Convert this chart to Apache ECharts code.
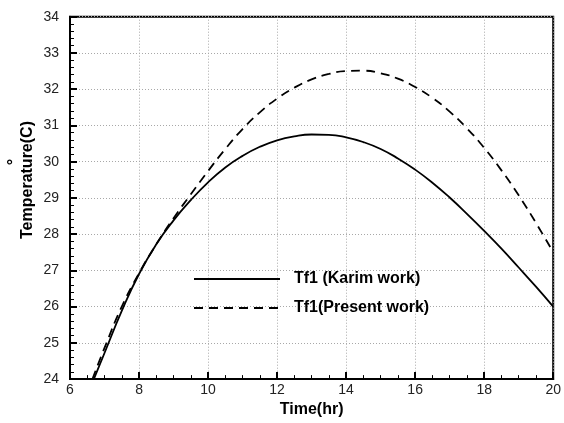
<!DOCTYPE html>
<html>
<head>
<meta charset="utf-8">
<script src="https://cdn.jsdelivr.net/npm/echarts@6/dist/echarts.min.js"></script>
<style>html,body{margin:0;padding:0;background:#fff;}#c{width:564px;height:423px;}</style>
</head>
<body>
<div id="c"></div>
<script>
var seriesNames = ['Tf1 (Karim work)', 'Tf1(Present work)'];
var karimTime = [6.69, 7.0, 7.5, 8.0, 8.5, 9.0, 9.5, 10.0, 10.5, 11.0, 11.5, 12.0, 12.5, 13.0, 13.5, 14.0, 14.5, 15.0, 15.5, 16.0, 16.5, 17.0, 17.5, 18.0, 18.5, 19.0, 19.5, 20.0];
var karimTemp = [24.0, 24.72, 25.88, 26.9, 27.72, 28.38, 28.94, 29.43, 29.84, 30.16, 30.41, 30.59, 30.7, 30.75, 30.74, 30.67, 30.54, 30.35, 30.09, 29.78, 29.42, 29.01, 28.56, 28.09, 27.6, 27.08, 26.55, 26.0];
var presentTime = [6.65, 7.0, 7.5, 8.0, 8.5, 9.0, 9.5, 10.0, 10.5, 11.0, 11.5, 12.0, 12.5, 13.0, 13.5, 14.0, 14.5, 15.0, 15.5, 16.0, 16.5, 17.0, 17.5, 18.0, 18.5, 19.0, 19.5, 20.0];
var presentTemp = [24.0, 24.86, 26.0, 26.92, 27.72, 28.44, 29.1, 29.74, 30.35, 30.9, 31.36, 31.74, 32.04, 32.27, 32.42, 32.5, 32.51, 32.44, 32.29, 32.06, 31.76, 31.38, 30.92, 30.38, 29.76, 29.07, 28.31, 27.5];
var xTicks = [6, 8, 10, 12, 14, 16, 18, 20];
var yTicks = [24, 25, 26, 27, 28, 29, 30, 31, 32, 33, 34];
var xTitle = 'Time(hr)';
var yTitle = 'Temperature(C)';
var degreeMark = '°';

function pairs(xs, ys) { return xs.map(function (x, i) { return [x, ys[i]]; }); }

var FONT = 'Liberation Sans, Arial, sans-serif';
var chart = echarts.init(document.getElementById('c'), null, { renderer: 'canvas' });
chart.setOption({
  animation: false,
  backgroundColor: '#fff',
  grid: { left: 70, right: 9, top: 16.7, bottom: 36.3, show: true, borderColor: '#000', borderWidth: 2, backgroundColor: 'transparent' },
  legend: {
    orient: 'vertical', left: 188, top: 266, itemWidth: 86, itemHeight: 14, itemGap: 13,
    itemStyle: { color: 'transparent', borderWidth: 0, opacity: 0 },
    textStyle: { fontFamily: FONT, fontWeight: 'bold', fontSize: 16, color: '#000', padding: [0, 0, 0, 9] },
    data: seriesNames
  },
  xAxis: {
    type: 'value', min: xTicks[0], max: xTicks[xTicks.length - 1], interval: 2,
    name: xTitle, nameLocation: 'middle', nameGap: 19,
    nameTextStyle: { fontFamily: FONT, fontWeight: 'bold', fontSize: 16, color: '#000' },
    axisLine: { show: true, lineStyle: { color: '#000', width: 2 } },
    axisTick: { show: true, inside: true, length: 7, lineStyle: { color: '#000', width: 2 } },
    minorTick: { show: true, splitNumber: 4, length: 4, lineStyle: { color: '#000', width: 1 } },
    axisLabel: { margin: 4, fontFamily: FONT, fontSize: 14, color: '#222' },
    splitLine: { show: true, lineStyle: { color: '#a8a8a8', width: 1, type: [1, 2] } }
  },
  yAxis: {
    type: 'value', min: yTicks[0], max: yTicks[yTicks.length - 1], interval: 1,
    axisLine: { show: true, lineStyle: { color: '#000', width: 2 } },
    axisTick: { show: true, inside: true, length: 7, lineStyle: { color: '#000', width: 2 } },
    minorTick: { show: true, splitNumber: 5, length: 4, lineStyle: { color: '#000', width: 1 } },
    axisLabel: { margin: 11, fontFamily: FONT, fontSize: 14, color: '#222' },
    splitLine: { show: true, lineStyle: { color: '#a8a8a8', width: 1, type: [1, 2] } }
  },
  graphic: [
    { type: 'text', x: 28, y: 180, rotation: Math.PI / 2,
      style: { text: yTitle, font: 'bold 16px ' + FONT, fill: '#000', align: 'center', verticalAlign: 'middle' } },
    { type: 'text', x: 15, y: 162, rotation: Math.PI / 2,
      style: { text: degreeMark, font: 'bold 16px ' + FONT, fill: '#000', align: 'center', verticalAlign: 'middle' } }
  ],
  series: [
    { name: seriesNames[0], type: 'line', smooth: 0.5, symbol: 'none', clip: true,
      lineStyle: { color: '#000', width: 1.8, type: 'solid' }, itemStyle: { color: '#000' },
      data: pairs(karimTime, karimTemp) },
    { name: seriesNames[1], type: 'line', smooth: 0.5, symbol: 'none', clip: true,
      lineStyle: { color: '#000', width: 1.8, type: [9, 6] }, itemStyle: { color: '#000' },
      data: pairs(presentTime, presentTemp) }
  ]
});
</script>
</body>
</html>
